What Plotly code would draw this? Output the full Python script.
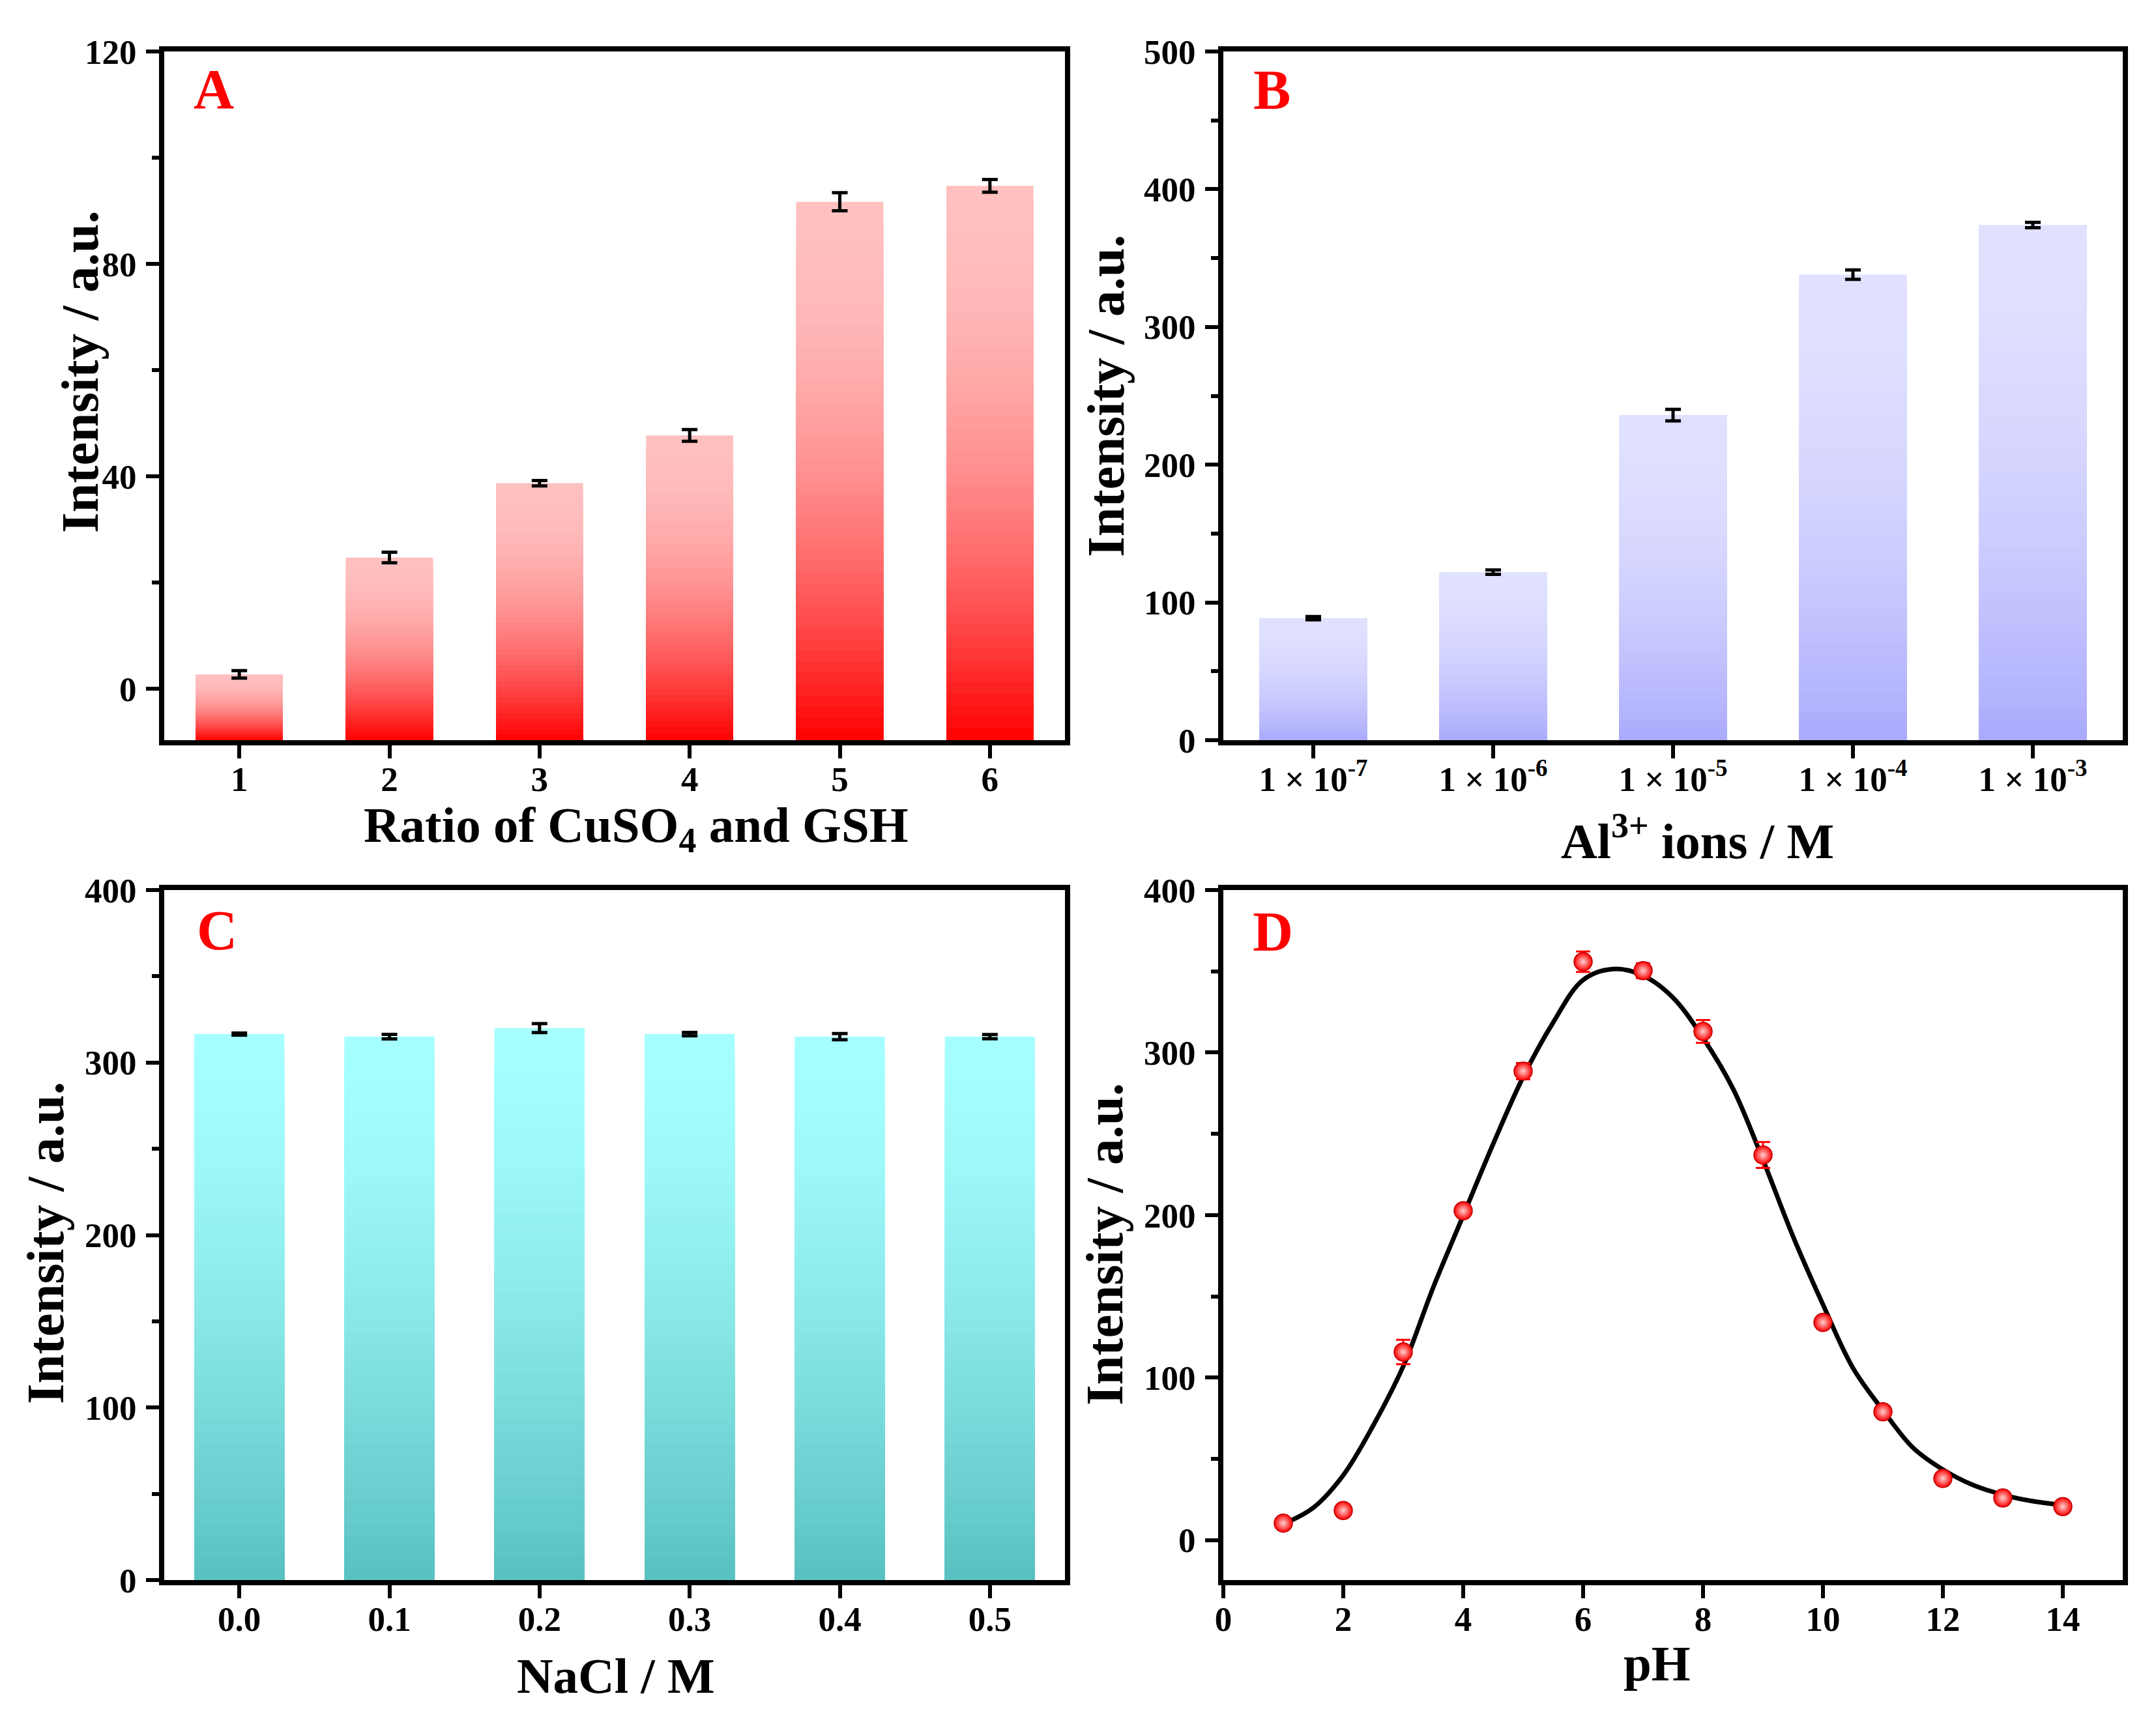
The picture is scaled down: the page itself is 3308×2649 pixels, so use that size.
import plotly.graph_objects as go

# ---------------- data ----------------
# Panel A: ratio of CuSO4 and GSH
ratio_x = [1, 2, 3, 4, 5, 6]
ratio_vals = [2.7, 24.7, 38.7, 47.7, 91.7, 94.7]
ratio_errs = [0.7, 1.0, 0.5, 1.1, 1.7, 1.2]

# Panel B: Al3+ concentration
al_x = [1, 2, 3, 4, 5]
al_labels = ["1 × 10<sup>-7</sup>", "1 × 10<sup>-6</sup>", "1 × 10<sup>-5</sup>",
             "1 × 10<sup>-4</sup>", "1 × 10<sup>-3</sup>"]
al_vals = [88.6, 122.0, 236.0, 338.0, 374.0]
al_errs = [1.2, 1.6, 4.2, 3.4, 2.0]

# Panel C: NaCl concentration
nacl_x = [0.0, 0.1, 0.2, 0.3, 0.4, 0.5]
nacl_vals = [316.5, 315.0, 320.0, 316.5, 315.0, 315.0]
nacl_errs = [0.6, 1.3, 2.6, 1.0, 1.8, 1.2]

# Panel D: pH
ph_x = [1, 2, 3, 4, 5, 6, 7, 8, 9, 10, 11, 12, 13, 14]
ph_vals = [10.5, 18.3, 115.8, 202.7, 288.6, 355.9, 350.4, 313.0, 237.0, 134.0, 79.0, 38.0, 26.0, 20.7]
ph_errs = [2.0, 2.0, 7.5, 3.0, 5.0, 6.3, 4.6, 7.0, 8.0, 3.0, 2.5, 2.5, 2.5, 2.0]
fit_x = [1, 1.5, 2, 2.5, 3, 3.5, 4, 4.5, 5, 5.5, 6, 6.5, 7, 7.5, 8, 8.5, 9, 9.5,
         10, 10.5, 11, 11.5, 12, 12.5, 13, 13.5, 14]
fit_y = [10, 20, 40, 70.6, 107, 155.5, 199.7, 243.8, 285, 318.5, 344.7, 351.4, 347.4,
         333.8, 309, 277.8, 234, 187, 145, 106, 80, 57, 43.5, 34, 28, 24, 21.7]

FONT = "Liberation Serif"
W, H = 3308, 2649

fig = go.Figure()


def mix(c0, c1, p):
    return "rgb(%d,%d,%d)" % tuple(round(a + (b - a) * p) for a, b in zip(c0, c1))


def gradient_bars(x, vals, base, width, c_bot, c_top, power, xa, ya, n=48):
    for k in range(n, 0, -1):
        frac = k / n
        t = (k - 0.5) / n
        p = 1 - (1 - t) ** power
        fig.add_trace(go.Bar(
            x=x, y=[(v - base) * frac for v in vals], base=base, width=width,
            marker=dict(color=mix(c_bot, c_top, p), line=dict(width=0)),
            xaxis=xa, yaxis=ya, showlegend=False, hoverinfo="skip"))


def err_trace(x, vals, errs, xa, ya, color="black", thick=5, w=12):
    fig.add_trace(go.Scatter(
        x=x, y=vals, mode="markers", marker=dict(size=1, color="rgba(0,0,0,0)"),
        error_y=dict(type="data", array=errs, color=color, thickness=thick, width=w),
        xaxis=xa, yaxis=ya, showlegend=False, hoverinfo="skip"))


A_MIN = -9.7
gradient_bars(ratio_x, ratio_vals, A_MIN, 0.58, (255, 0, 0), (255, 192, 192), 2.0, "x", "y")
err_trace(ratio_x, ratio_vals, ratio_errs, "x", "y")

gradient_bars(al_x, al_vals, 0, 0.6, (170, 170, 253), (224, 224, 255), 2.0, "x2", "y2")
err_trace(al_x, al_vals, al_errs, "x2", "y2")

gradient_bars(nacl_x, nacl_vals, 0, 0.06, (88, 192, 192), (166, 255, 255), 1.5, "x3", "y3")
err_trace(nacl_x, nacl_vals, nacl_errs, "x3", "y3")

fig.add_trace(go.Scatter(x=fit_x, y=fit_y, mode="lines",
                         line=dict(color="black", width=7, shape="spline", smoothing=1.0),
                         xaxis="x4", yaxis="y4", showlegend=False, hoverinfo="skip"))
fig.add_trace(go.Scatter(
    x=ph_x, y=ph_vals, mode="markers",
    marker=dict(size=28, color="#ff0000", gradient=dict(type="radial", color="#ffd0d0"),
                line=dict(color="#c00000", width=1.5)),
    error_y=dict(type="data", array=ph_errs, color="#ff0000", thickness=3, width=11),
    xaxis="x4", yaxis="y4", showlegend=False, hoverinfo="skip"))

# ---------------- axes ----------------
tickfont = dict(family=FONT, size=53, color="black", weight="bold")
base_ax = dict(showline=True, linecolor="black", linewidth=8, mirror=True,
               ticks="outside", ticklen=20, tickwidth=6, tickcolor="black",
               tickfont=tickfont, showgrid=False, zeroline=False, fixedrange=True,
               automargin=False)


def minor(d):
    return dict(ticks="outside", ticklen=11, tickwidth=6, tickcolor="black", dtick=d, showgrid=False)


XL = [252 / W, 1634 / W]
XR = [1877 / W, 3257 / W]
YT = [1 - 1136 / H, 1 - 79 / H]
YB = [1 - 2425 / H, 1 - 1366 / H]
XSO = -14
YSO = 4

fig.update_layout(
    template="none",
    width=W, height=H, autosize=False,
    margin=dict(l=0, r=0, t=0, b=0, pad=0, autoexpand=False),
    plot_bgcolor="white", paper_bgcolor="white", barmode="overlay", showlegend=False,
    xaxis=dict(base_ax, domain=XL, anchor="y", range=[0.5, 6.5], tickvals=ratio_x, ticklabelstandoff=XSO),
    yaxis=dict(base_ax, domain=YT, anchor="x", range=[A_MIN, 120], tickvals=[0, 40, 80, 120],
               minor=minor(20), ticklabelstandoff=YSO),
    xaxis2=dict(base_ax, domain=XR, anchor="y2", range=[0.5, 5.5], tickvals=al_x, ticktext=al_labels,
                ticklabelstandoff=XSO),
    yaxis2=dict(base_ax, domain=YT, anchor="x2", range=[0, 500], dtick=100, minor=minor(50),
                ticklabelstandoff=YSO),
    xaxis3=dict(base_ax, domain=XL, anchor="y3", range=[-0.05, 0.55], tickvals=nacl_x,
                tickformat=".1f", ticklabelstandoff=XSO),
    yaxis3=dict(base_ax, domain=YB, anchor="x3", range=[0, 400], dtick=100, minor=minor(50),
                ticklabelstandoff=YSO),
    xaxis4=dict(base_ax, domain=XR, anchor="y4", range=[0, 15], dtick=2, tick0=0, ticklabelstandoff=XSO),
    yaxis4=dict(base_ax, domain=YB, anchor="x4", range=[-24.5, 400], dtick=100, minor=minor(50),
                ticklabelstandoff=YSO),
)

# ---------------- text ----------------
def px_x(v):
    return v / W


def px_y(v):
    return 1 - v / H


ann = []
# panel letters
for letter, cx, cy in [("A", 328, 137), ("B", 1951, 138), ("C", 333, 1428), ("D", 1953, 1430)]:
    ann.append(dict(text=letter, x=px_x(cx), y=px_y(cy), xref="paper", yref="paper",
                    xanchor="center", yanchor="middle", showarrow=False,
                    font=dict(family=FONT, size=86, color="#ff0000", weight="bold")))
# y titles
for cx, cy in [(123, 571), (1697, 608), (70, 1908), (1695, 1910)]:
    ann.append(dict(text="Intensity / a.u.", x=px_x(cx), y=px_y(cy), xref="paper", yref="paper",
                    xanchor="center", yanchor="middle", textangle=-90, showarrow=False,
                    font=dict(family=FONT, size=81, color="black", weight="bold")))
# x titles
for txt, cx, cy in [("Ratio of CuSO<sub>4</sub> and GSH", 976, 1272),
                    ("Al<sup>3+</sup> ions / M", 2604, 1285),
                    ("NaCl / M", 945, 2572),
                    ("pH", 2542, 2553)]:
    ann.append(dict(text=txt, x=px_x(cx), y=px_y(cy), xref="paper", yref="paper",
                    xanchor="center", yanchor="middle", showarrow=False,
                    font=dict(family=FONT, size=77, color="black", weight="bold")))
fig.update_layout(annotations=ann)

fig.write_html("out.html", config={"displayModeBar": False},
               post_script="document.body.style.margin='0';")
